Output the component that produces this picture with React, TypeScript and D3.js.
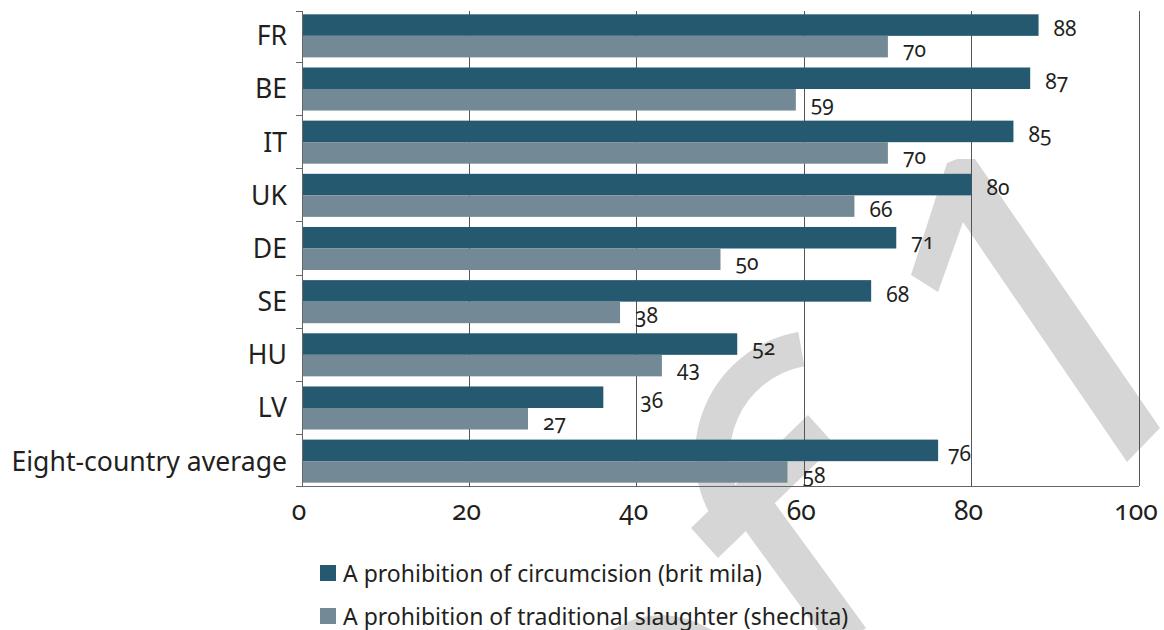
import React from "react";
import * as d3 from "d3";

const categories = ["FR", "BE", "IT", "UK", "DE", "SE", "HU", "LV", "Eight-country average"];
const circumcision = [88, 87, 85, 80, 71, 68, 52, 36, 76];
const slaughter = [70, 59, 70, 66, 50, 38, 43, 27, 58];
const circumcisionLabelNudge = [0, 0, 0, 0, 0, 0, 0, 22, -5];
const xTicks = [0, 20, 40, 60, 80, 100];
const seriesNames = [
  "A prohibition of circumcision (brit mila)",
  "A prohibition of traditional slaughter (shechita)",
];
const seriesColors = ["#245970", "#738a96"];

const W = 1164;
const H = 630;
const FONT = "'Noto Sans', 'Open Sans', sans-serif";
const TEXT = "#231f20";
const WM = "#d6d6d6";

export default function App() {
  const x = d3.scaleLinear().domain([0, 100]).range([302, 1139]);
  const y = d3
    .scaleBand<string>()
    .domain(categories)
    .range([11, 486])
    .paddingInner(0.19)
    .paddingOuter(0.0625);
  const sub = d3.scaleBand<number>().domain([0, 1]).range([0, y.bandwidth()]);
  const step = y.step();
  const yTop = 11;
  const yBot = 486;

  const boundaries = [yTop, ...categories.slice(1).map((c) => (y(c) as number) - (step - y.bandwidth()) / 2), yBot];

  const arcPath = d3.arc()({
    innerRadius: 90,
    outerRadius: 125,
    startAngle: (-122 * Math.PI) / 180,
    endAngle: (-10 * Math.PI) / 180,
  } as any) as string;

  const series = [circumcision, slaughter];

  return (
    <svg
      width={W}
      height={H}
      style={{ position: "absolute", left: 0, top: 0, background: "#fff" }}
      fontFamily={FONT}
    >
      <rect x={0} y={0} width={W} height={H} fill="#fff" />
      {/* watermark */}
      <g fill={WM}>
        <path d={arcPath} transform="translate(820,455)" />
        <polygon points="691,528 718,558 835,445 808,415" />
        <polygon points="739,522 771,498 866,628 834,652" />
        <path d="M612,630 Q660,600 712,630 Z" />
        <polygon points="911,275 947,163 957,159 975,159 1160,428 1127,462 963,222 938,292" />
      </g>
      {/* gridlines */}
      <g shapeRendering="crispEdges">
        {xTicks.slice(1).map((t) => (
          <line key={t} x1={x(t)} x2={x(t)} y1={yTop} y2={yBot} stroke="#555" strokeWidth={1} />
        ))}
      </g>
      {/* bars */}
      {series.map((vals, si) =>
        vals.map((v, i) => (
          <rect
            key={`${si}-${i}`}
            x={x(0)}
            y={(y(categories[i]) as number) + (sub(si) as number)}
            width={x(v) - x(0)}
            height={sub.bandwidth()}
            fill={seriesColors[si]}
          />
        ))
      )}
      {/* value labels */}
      {series.map((vals, si) =>
        vals.map((v, i) => (
          <text
            key={`l${si}-${i}`}
            x={x(v) + 15 + (si === 0 ? circumcisionLabelNudge[i] : 0)}
            y={(y(categories[i]) as number) + (sub(si) as number) + sub.bandwidth()}
            fontSize={21}
            fill={TEXT}
            style={{ fontVariantNumeric: "oldstyle-nums" }}
          >
            {v}
          </text>
        ))
      )}
      {/* axes */}
      <g shapeRendering="crispEdges" stroke="#666" strokeWidth={1}>
        <line x1={x(0)} x2={x(0)} y1={yTop} y2={yBot} />
        <line x1={x(0)} x2={x(100)} y1={yBot} y2={yBot} />
        {boundaries.map((b, i) => (
          <line key={i} x1={x(0) - 6} x2={x(0)} y1={b} y2={b} />
        ))}
      </g>
      {/* category labels */}
      {categories.map((c) => (
        <text
          key={c}
          x={x(0) - 15}
          y={(y(c) as number) + y.bandwidth() / 2 + 9.4}
          textAnchor="end"
          fontSize={26.6}
          fill={TEXT}
        >
          {c}
        </text>
      ))}
      {/* x tick labels */}
      {xTicks.map((t) => (
        <text
          key={t}
          x={x(t) - 3}
          y={520}
          textAnchor="middle"
          fontSize={26.5}
          fill={TEXT}
          style={{ fontVariantNumeric: "oldstyle-nums" }}
        >
          {t}
        </text>
      ))}
      {/* legend */}
      {seriesNames.map((n, i) => (
        <g key={n} transform={`translate(320, ${565 + i * 43})`}>
          <rect x={0} y={0} width={16} height={16} fill={seriesColors[i]} />
          <text x={23} y={16.5} fontSize={23} fill={TEXT}>
            {n}
          </text>
        </g>
      ))}
    </svg>
  );
}
